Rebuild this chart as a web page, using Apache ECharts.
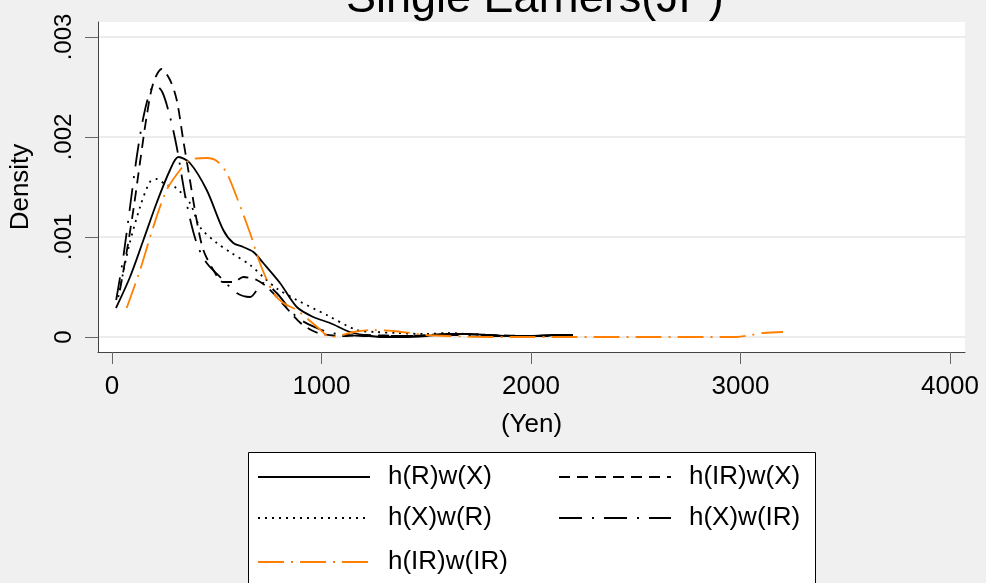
<!DOCTYPE html>
<html><head><meta charset="utf-8">
<script src="https://cdn.jsdelivr.net/npm/echarts@6/dist/echarts.min.js"></script>
<style>html,body{margin:0;padding:0;background:#f0f0f0}#c{width:986px;height:583px}</style>
</head><body><div id="c"></div>
<script>
const titleText = 'Single Earners(JP)';
const xName = '(Yen)';
const yName = 'Density';
const xTicks = [0, 1000, 2000, 3000, 4000];
const yTicks = [0, 0.001, 0.002, 0.003];
const names = ['h(R)w(X)', 'h(IR)w(X)', 'h(X)w(R)', 'h(X)w(IR)', 'h(IR)w(IR)'];

// h(R)w(X) – solid black
const rwxX = [19, 86, 150, 213, 277, 317, 372, 452, 531, 579, 627, 675, 722, 802, 882, 961, 1041, 1136, 1200, 1295, 1391, 1500, 1600, 1700, 1800, 1900, 2000, 2100, 2200];
const rwxY = [0.00029, 0.00060, 0.00097, 0.00134, 0.00167, 0.00180, 0.00174, 0.00147, 0.00107, 0.00094, 0.00090, 0.00085, 0.00074, 0.00054, 0.00030, 0.00020, 0.00014, 0.00005, 0.00002, 0.00000, 0.00000, 0.00001, 0.00003, 0.00003, 0.00002, 0.00001, 0.00001, 0.00002, 0.00002];

// h(IR)w(X) – dashed black
const irwxX = [38, 70, 102, 134, 165, 197, 237, 277, 309, 340, 372, 404, 436, 484, 530, 580, 627, 691, 740, 786, 850, 900, 950, 1000, 1100, 1200, 1400, 1600, 1800, 2000, 2200];
const irwxY = [0.00047, 0.00085, 0.00127, 0.00175, 0.00220, 0.00254, 0.00268, 0.00257, 0.00237, 0.00197, 0.00157, 0.00117, 0.00087, 0.00067, 0.00055, 0.00055, 0.00060, 0.00057, 0.00050, 0.00040, 0.00025, 0.00014, 0.00007, 0.00003, 0.00001, 0.00002, 0.00001, 0.00003, 0.00002, 0.00001, 0.00002];

// h(X)w(R) – dotted black
const xwrX = [30, 80, 134, 181, 213, 260, 300, 372, 420, 500, 563, 659, 722, 790, 882, 1025, 1168, 1260, 1359, 1500, 1600, 1700, 1800, 1900, 2000, 2100, 2200];
const xwrY = [0.00040, 0.00090, 0.00130, 0.00155, 0.00158, 0.00152, 0.00150, 0.00134, 0.00110, 0.00094, 0.00085, 0.00072, 0.00060, 0.00048, 0.00037, 0.00022, 0.00007, 0.00005, 0.00004, 0.00003, 0.00004, 0.00003, 0.00002, 0.00001, 0.00001, 0.00001, 0.00001];

// h(X)w(IR) – dash-dot black
const xwirX = [20, 54, 86, 118, 150, 181, 205, 240, 277, 309, 356, 404, 452, 531, 595, 659, 722, 786, 882, 977, 1050, 1200, 1400, 1600, 1800, 2000, 2200];
const xwirY = [0.00037, 0.00080, 0.00130, 0.00180, 0.00220, 0.00245, 0.00252, 0.00245, 0.00220, 0.00190, 0.00134, 0.00094, 0.00074, 0.00057, 0.00044, 0.00040, 0.00054, 0.00044, 0.00020, 0.00009, 0.00004, 0.00001, 0.00001, 0.00002, 0.00001, 0.00001, 0.00002];

// h(IR)w(IR) – orange long-dash-dot
const irwirX = [70, 134, 197, 261, 325, 372, 452, 500, 547, 595, 659, 706, 770, 818, 882, 940, 985, 1041, 1100, 1152, 1247, 1343, 1423, 1500, 1600, 1800, 2000, 2200, 2400, 2600, 2800, 2981, 3050, 3109, 3203];
const irwirY = [0.00029, 0.00067, 0.00110, 0.00147, 0.00167, 0.00177, 0.00179, 0.00176, 0.00164, 0.00140, 0.00104, 0.00074, 0.00044, 0.00034, 0.00027, 0.00017, 0.00009, 0.00000, 0.00002, 0.00005, 0.00007, 0.00006, 0.00004, 0.00002, 0.00001, 0.00000, 0.00000, 0.00000, 0.00000, 0.00000, 0.00000, 0.00000, 0.00002, 0.00004, 0.00005];

const xsAll = [rwxX, irwxX, xwrX, xwirX, irwirX];
const ysAll = [rwxY, irwxY, xwrY, xwirY, irwirY];
const colors = ['#000000', '#000000', '#000000', '#000000', '#ff8000'];
const dashes = ['solid', [11, 7], [2, 5], [23, 10, 2, 10], [26, 7, 2, 7]];

const FONT = "'Liberation Sans', Arial, sans-serif";
const chart = echarts.init(document.getElementById('c'), null, {renderer: 'canvas'});

const series = names.map((n, i) => ({
  name: n,
  type: 'line',
  symbol: 'none',
  showSymbol: false,
  smooth: 0.3,
  z: 3,
  data: xsAll[i].map((x, k) => [x, ysAll[i][k]]),
  itemStyle: {color: colors[i]},
  lineStyle: {color: colors[i], width: 1.8, type: dashes[i]}
}));

// legend slots: [left, top] for each series name
const legendSlots = [[257, 462], [558, 462], [257, 503], [558, 503], [257, 547]];
const legends = names.map((n, i) => ({
  data: [n],
  left: legendSlots[i][0],
  top: legendSlots[i][1],
  padding: 0,
  itemWidth: 112,
  itemHeight: 14,
  selectedMode: false,
  itemStyle: {opacity: 0, borderWidth: 0},
  textStyle: {fontSize: 26, fontFamily: FONT, color: '#000', lineHeight: 30, padding: [0, 0, 0, 13]},
  z: 10
}));

chart.setOption({
  animation: false,
  backgroundColor: '#f0f0f0',
  textStyle: {fontFamily: FONT},
  title: {
    text: titleText,
    left: 341,
    top: -28,
    textStyle: {fontSize: 45, fontWeight: 'normal', color: '#000', fontFamily: FONT}
  },
  grid: {
    left: 98, right: 21, top: 22, bottom: 231,
    show: true, backgroundColor: '#ffffff', borderWidth: 0
  },
  xAxis: {
    type: 'value',
    min: -66.8, max: 4071.6,
    name: xName, nameLocation: 'middle', nameGap: 60,
    nameTextStyle: {fontSize: 26, color: '#000', fontFamily: FONT},
    axisLine: {show: true, onZero: false, lineStyle: {color: '#444', width: 1}},
    axisTick: {show: true, customValues: xTicks, length: 12, lineStyle: {color: '#666', width: 1}},
    axisLabel: {customValues: xTicks, fontSize: 26, color: '#000', margin: 22, fontFamily: FONT,
      formatter: v => String(Math.round(v))},
    splitLine: {show: false}
  },
  yAxis: {
    type: 'value',
    min: -0.00015, max: 0.00315,
    name: yName, nameLocation: 'middle', nameGap: 64, nameRotate: 90,
    nameTextStyle: {fontSize: 26, color: '#000', fontFamily: FONT},
    axisLine: {show: true, onZero: false, lineStyle: {color: '#444', width: 1}},
    axisTick: {show: true, customValues: yTicks, length: 13, lineStyle: {color: '#666', width: 1}},
    axisLabel: {
      customValues: yTicks, fontSize: 24, color: '#000', margin: 22, rotate: 90, fontFamily: FONT,
      formatter: v => v === 0 ? '0' : String(+v.toFixed(4)).replace(/^0\./, '.')
    },
    splitLine: {show: true, lineStyle: {color: '#e6e6e6', width: 1.5}}
  },
  legend: legends,
  graphic: [{
    type: 'rect', z: 1,
    shape: {x: 248.5, y: 452.5, width: 567, height: 160},
    style: {fill: '#ffffff', stroke: '#000', lineWidth: 1}
  }],
  series: series
});
</script>
</body></html>
